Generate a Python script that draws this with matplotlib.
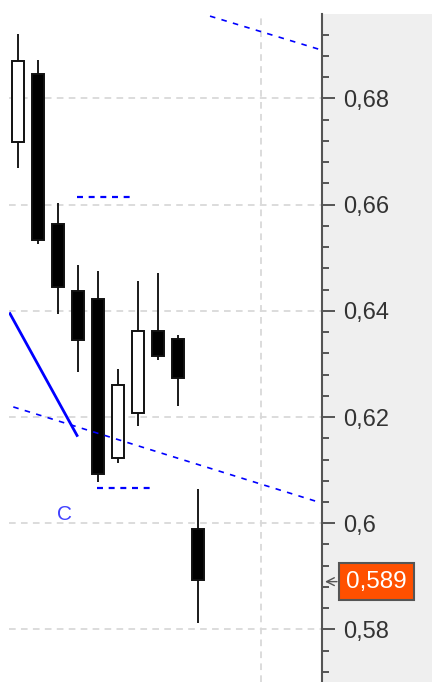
import numpy as np
import matplotlib
matplotlib.use('Agg')
import matplotlib.pyplot as plt
from matplotlib.ticker import FixedLocator, FuncFormatter
from matplotlib.patches import Rectangle

plt.rcParams['font.family'] = ['Liberation Sans', 'DejaVu Sans']
plt.rcParams['lines.scale_dashes'] = False

# данные свечей
opens = [0.6718, 0.6846, 0.6563, 0.6438, 0.6422, 0.6123, 0.6207, 0.6362, 0.6347, 0.5990]
highs = [0.6922, 0.6872, 0.6604, 0.6486, 0.6475, 0.6290, 0.6457, 0.6472, 0.6354, 0.6064]
lows = [0.6669, 0.6525, 0.6394, 0.6285, 0.6078, 0.6114, 0.6183, 0.6307, 0.6221, 0.5813]
closes = [0.6871, 0.6533, 0.6444, 0.6345, 0.6092, 0.6260, 0.6362, 0.6315, 0.6273, 0.5893]

# линии разметки (x в индексах свечей)
solid_line_x = [-0.435, 2.985]
solid_line_y = [0.6397, 0.6163]
channel_low_x = [-0.235, 15.1]
channel_low_y = [0.6219, 0.6039]
channel_up_x = [9.6, 15.1]
channel_up_y = [0.6955, 0.6892]
hline_top = (2.95, 5.7, 0.6614)
hline_bot = (3.95, 6.7, 0.6067)
label_c = (2.3, 0.6016, 'C')

y_ticks = [0.58, 0.60, 0.62, 0.64, 0.66, 0.68]
last_price = 0.589
vgrid_x = 12.15

W, H = 432, 682
fig = plt.figure(figsize=(W / 100, H / 100), dpi=100)
fig.patch.set_facecolor('white')

ax_left, ax_right, ax_top = 9, 322, 14
ax = fig.add_axes([ax_left / W, 0, (ax_right - ax_left) / W, (H - ax_top) / H])

# серая панель шкалы справа
fig.patches.append(Rectangle((ax_right / W, 0), (W - ax_right) / W, (H - ax_top) / H,
                             transform=fig.transFigure, facecolor='#efefef',
                             edgecolor='none', zorder=-1))

ax.set_xlim(-0.45, 15.2)
ax.set_ylim(0.5701, 0.6959)
ax.set_facecolor('white')

# сетка
grid_kw = dict(color='#d9d9d9', lw=1.3, linestyle=(0, (4.8, 3.8)), zorder=1)
for v in y_ticks:
    ax.axhline(v, **grid_kw)
ax.axvline(vgrid_x, **grid_kw)

# свечи
x = np.arange(len(opens))
o = np.array(opens)
c = np.array(closes)
ax.vlines(x, lows, highs, color='#1a1a1a', lw=1.4, zorder=3)
bottoms = np.minimum(o, c)
heights = np.abs(c - o)
fills = ['white' if cc > oo else 'black' for oo, cc in zip(o, c)]
ax.bar(x, heights, bottom=bottoms, width=0.6, color=fills, edgecolor='#111111',
       linewidth=1.4, zorder=4)

# синие линии
ax.plot(solid_line_x, solid_line_y, color='#0000ff', lw=2.0, zorder=5,
        solid_capstyle='butt')
ax.plot(channel_low_x, channel_low_y, color='#0000ff', lw=1.2,
        linestyle=(0, (4, 4.6)), zorder=5)
ax.plot(channel_up_x, channel_up_y, color='#0000ff', lw=1.2,
        linestyle=(0, (4, 4.6)), zorder=5)
for x0, x1, yv in (hline_top, hline_bot):
    ax.plot([x0, x1], [yv, yv], color='#0000ff', lw=1.6,
            linestyle=(0, (4.3, 4.1)), zorder=5)
ax.text(label_c[0], label_c[1], label_c[2], color='#4040ff', fontsize=15,
        ha='center', va='center', zorder=6)

# оси
for s in ['left', 'top', 'bottom']:
    ax.spines[s].set_visible(False)
ax.spines['right'].set_color('#555555')
ax.spines['right'].set_linewidth(1.5)
ax.set_xticks([])
ax.yaxis.tick_right()
ax.yaxis.set_major_locator(FixedLocator(y_ticks))
ax.yaxis.set_minor_locator(FixedLocator(np.arange(0.568, 0.697, 0.004)))
ax.yaxis.set_major_formatter(FuncFormatter(lambda v, p: ('%g' % round(v, 4)).replace('.', ',')))
ax.tick_params(axis='y', which='major', length=9.5, width=1.4, color='#555555',
               labelsize=17, labelcolor='#333333', pad=5.5)
ax.tick_params(axis='y', which='minor', length=5, width=1.4, color='#555555')

# метка последней цены
ax.text(1 + 24 / (ax_right - ax_left), last_price, '0,589', transform=ax.get_yaxis_transform(),
        fontsize=17.5, color='white', ha='left', va='center', zorder=10, clip_on=False,
        bbox=dict(boxstyle='square,pad=0.3', facecolor='#ff5000', edgecolor='#555555', lw=1.5))
ax.annotate('', xy=(1 + 3 / (ax_right - ax_left), last_price),
            xytext=(1 + 15 / (ax_right - ax_left), last_price),
            xycoords=ax.get_yaxis_transform(), textcoords=ax.get_yaxis_transform(),
            arrowprops=dict(arrowstyle='->', color='#555555', lw=1.0,
                            shrinkA=0, shrinkB=0, mutation_scale=14),
            annotation_clip=False)

fig.savefig('out.png', dpi=100, facecolor=fig.get_facecolor())
